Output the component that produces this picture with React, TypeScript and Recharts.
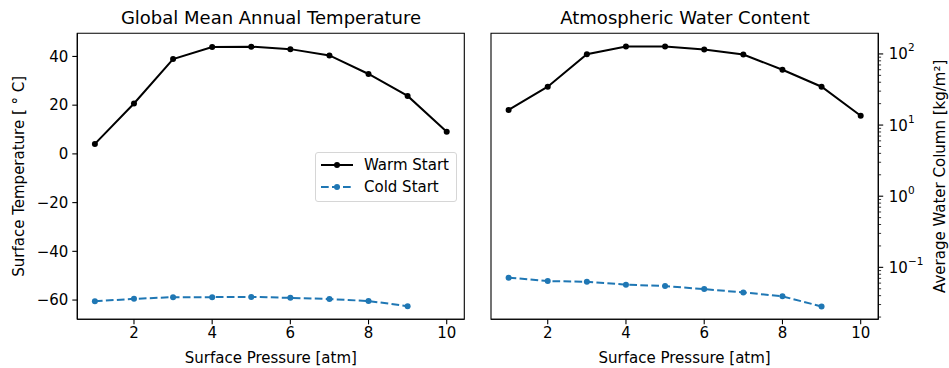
import { LineChart, Line, XAxis, YAxis, Legend, Label, ReferenceArea } from "recharts";

const pressure = [1, 2, 3, 4, 5, 6, 7, 8, 9, 10];
const warmTemp = [4.1, 20.7, 38.9, 43.9, 44.0, 43.0, 40.4, 32.8, 23.8, 9.1];
const coldTemp = [-60.5, -59.5, -58.8, -58.8, -58.7, -59.1, -59.6, -60.4, -62.5];
const warmWater = [16.3, 34.6, 99, 127, 127, 115, 98, 60, 34.6, 13.5];
const coldWater = [0.0716, 0.0641, 0.0628, 0.057, 0.0545, 0.0494, 0.0444, 0.0391, 0.0282];

const xTicks = [2, 4, 6, 8, 10];
const tempTicks = [-60, -40, -20, 0, 20, 40];
const waterMajor = [0.1, 1, 10, 100];
const waterExp = ["\u22121", "0", "1", "2"];
const waterMinor = [0.01, 0.1, 1, 10].flatMap((d) => [2, 3, 4, 5, 6, 7, 8, 9].map((m) => +(d * m).toPrecision(3)));

const xDomain: [number, number] = [0.55, 10.45];
const tempDomain: [number, number] = [-67.9, 49.5];
const waterDomain: [number, number] = [0.0186, 195];

const seriesNames = ["Warm Start", "Cold Start"];
const BLUE = "#1f77b4";
const DASH = "7.7 3.3";

const rows = pressure.map((p, i) => ({
  p,
  warmT: warmTemp[i],
  coldT: coldTemp[i],
  warmW: warmWater[i],
  coldW: coldWater[i],
}));

const font = "'DejaVu Sans', sans-serif";
const FS = 15;
const tickFont = { fontSize: FS, fill: "#000", fontFamily: font };
const labelStyle = { fontSize: FS, fill: "#000", fontFamily: font };
const axisLn = { stroke: "#000", strokeWidth: 1.1 };

function LegendBox() {
  const styles = [
    { color: "#000", dash: undefined as string | undefined },
    { color: BLUE, dash: DASH },
  ];
  return (
    <div style={{ width: 142, height: 50, boxSizing: "border-box", border: "1px solid #d6d6d6", borderRadius: 3, background: "rgba(255,255,255,0.8)", paddingTop: 1, fontFamily: font, fontSize: FS, color: "#000" }}>
      {seriesNames.map((n, i) => (
        <div key={n} style={{ display: "flex", alignItems: "center", height: 22, whiteSpace: "nowrap" }}>
          <svg width={44} height={10} style={{ display: "block", flex: "none" }}>
            <line x1={5} x2={37} y1={5} y2={5} stroke={styles[i].color} strokeWidth={2} strokeDasharray={styles[i].dash} />
            <circle cx={21} cy={5} r={3} fill={styles[i].color} />
          </svg>
          <span style={{ marginLeft: 4 }}>{n}</span>
        </div>
      ))}
    </div>
  );
}

function WaterTick(props: any) {
  const { x, y, payload } = props;
  const v = payload.value;
  const k = waterMajor.indexOf(v);
  if (k < 0) {
    return <line x1={x} x2={x + 2.8} y1={y} y2={y} stroke="#000" strokeWidth={0.8} />;
  }
  return (
    <g>
      <line x1={x} x2={x + 4.9} y1={y} y2={y} stroke="#000" strokeWidth={1.1} />
      <text x={x + 10.5} y={y + 5.5} fontSize={FS} fontFamily={font} fill="#000">
        10
        <tspan dy={-8} fontSize={10.5}>{waterExp[k]}</tspan>
      </text>
    </g>
  );
}

const titleStyle = { position: "absolute" as const, top: 8, height: 20, lineHeight: "20px", fontSize: 18, fontFamily: font, textAlign: "center" as const, color: "#000", whiteSpace: "nowrap" as const };

export default function App() {
  return (
    <div style={{ position: "absolute", left: 0, top: 0, width: 949, height: 368, background: "#fff", fontFamily: font }}>
      <div style={{ ...titleStyle, left: 77, width: 388 }}>Global Mean Annual Temperature</div>
      <div style={{ ...titleStyle, left: 491, width: 388 }}>Atmospheric Water Content</div>

      <div style={{ position: "absolute", left: 0, top: 0 }}>
        <LineChart width={475} height={368} data={rows} margin={{ top: 33.3, right: 10.7, bottom: 0, left: 0 }}>
          <XAxis dataKey="p" type="number" domain={xDomain} ticks={xTicks} interval={0} height={48.7} tickSize={5} tickMargin={3.5} tick={tickFont} axisLine={axisLn} tickLine={axisLn} allowDataOverflow>
            <Label value="Surface Pressure [atm]" position="insideBottom" offset={5} style={labelStyle} />
          </XAxis>
          <YAxis yAxisId="t" type="number" domain={tempDomain} ticks={tempTicks} interval={0} width={77.3} tickSize={5} tickMargin={4} tick={tickFont} axisLine={axisLn} tickLine={axisLn} tickFormatter={(v: number) => String(v).replace("-", "\u2212")} allowDataOverflow>
            <Label value="Surface Temperature [ ° C]" position="insideLeft" angle={-90} offset={19} style={{ ...labelStyle, textAnchor: "middle" }} />
          </YAxis>
          <ReferenceArea yAxisId="t" x1={xDomain[0]} x2={xDomain[1]} y1={tempDomain[0]} y2={tempDomain[1]} ifOverflow="visible" fill="none" fillOpacity={0} stroke="#000" strokeWidth={1.1} />
          <Legend layout="vertical" align="center" verticalAlign="middle" content={() => <LegendBox />} wrapperStyle={{ position: "absolute", left: 315, top: 152, width: 142, height: 50 }} />
          <Line yAxisId="t" dataKey="warmT" name={seriesNames[0]} stroke="#000" strokeWidth={2} dot={{ r: 3, fill: "#000", stroke: "none" }} isAnimationActive={false} />
          <Line yAxisId="t" dataKey="coldT" name={seriesNames[1]} stroke={BLUE} strokeWidth={2} strokeDasharray={DASH} dot={{ r: 3, fill: BLUE, stroke: "none" }} isAnimationActive={false} />
        </LineChart>
      </div>

      <div style={{ position: "absolute", left: 475, top: 0 }}>
        <LineChart width={474} height={368} data={rows} margin={{ top: 33.3, right: 0, bottom: 0, left: 16 }}>
          <XAxis dataKey="p" type="number" domain={xDomain} ticks={xTicks} interval={0} height={48.7} tickSize={5} tickMargin={3.5} tick={tickFont} axisLine={axisLn} tickLine={axisLn} allowDataOverflow>
            <Label value="Surface Pressure [atm]" position="insideBottom" offset={5} style={labelStyle} />
          </XAxis>
          <YAxis yAxisId="w" orientation="right" type="number" scale="log" domain={waterDomain} ticks={[...waterMinor, ...waterMajor].filter((v) => v > waterDomain[0] && v < waterDomain[1])} interval={0} width={70.7} tickSize={0} tickMargin={0} tickLine={false} tick={<WaterTick />} axisLine={axisLn} allowDataOverflow>
            <Label value="Average Water Column [kg/m²]" position="insideRight" angle={-90} offset={9} style={{ ...labelStyle, textAnchor: "middle" }} />
          </YAxis>
          <ReferenceArea yAxisId="w" x1={xDomain[0]} x2={xDomain[1]} y1={waterDomain[0]} y2={waterDomain[1]} ifOverflow="visible" fill="none" fillOpacity={0} stroke="#000" strokeWidth={1.1} />
          <Line yAxisId="w" dataKey="warmW" stroke="#000" strokeWidth={2} dot={{ r: 3, fill: "#000", stroke: "none" }} isAnimationActive={false} />
          <Line yAxisId="w" dataKey="coldW" stroke={BLUE} strokeWidth={2} strokeDasharray={DASH} dot={{ r: 3, fill: BLUE, stroke: "none" }} isAnimationActive={false} />
        </LineChart>
      </div>
    </div>
  );
}
